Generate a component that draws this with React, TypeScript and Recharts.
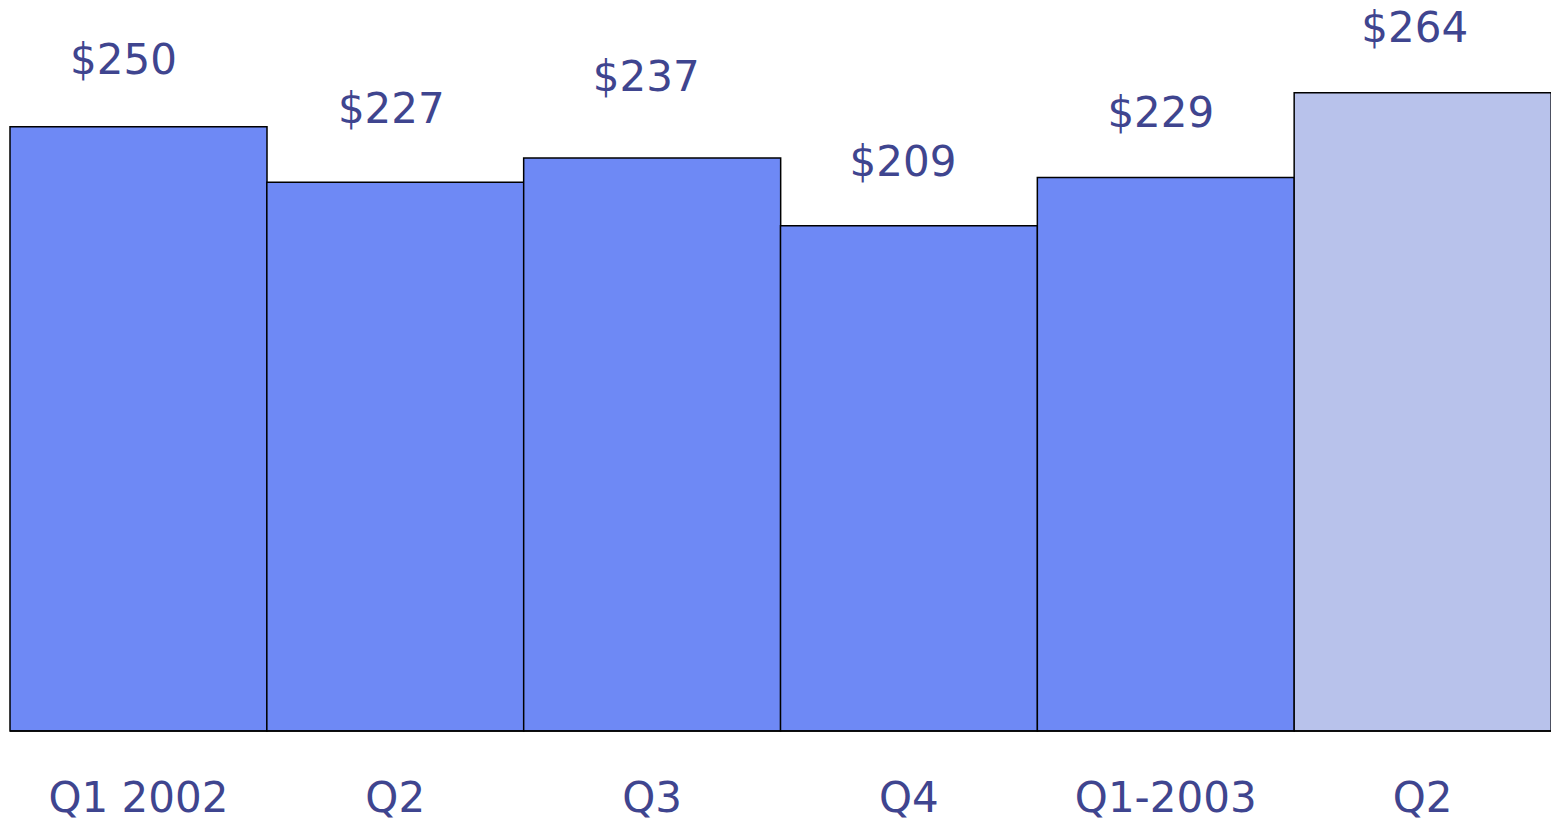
import { BarChart, Bar, XAxis, YAxis, Cell, LabelList } from 'recharts';

const quarters = ['Q1 2002', 'Q2', 'Q3', 'Q4', 'Q1-2003', 'Q2'];
const revenue = [250, 227, 237, 209, 229, 264];
const barColors = ['#6E89F5', '#6E89F5', '#6E89F5', '#6E89F5', '#6E89F5', '#B8C2EB'];

// value labels in the source sit a little irregularly above each bar
const labelLift = [53, 59, 67, 50, 50, 51];
const labelShift = [-15, -4, -6, -6, -5, -8];

const TEXT = '#3F458F';
const FONT = 'Verdana, "DejaVu Sans", sans-serif';

const data = quarters.map((q, i) => ({ key: `${q}-${i}`, q, v: revenue[i] }));

function QuarterTick({ x, y, payload }: any) {
  return (
    <text x={x} y={y + 81} textAnchor="middle" fill={TEXT} fontSize={42} fontFamily={FONT}>
      {quarters[payload.index] ?? payload.value}
    </text>
  );
}

function ValueLabel({ x, y, width, value, index }: any) {
  return (
    <text x={x + width / 2 + (labelShift[index] ?? 0)} y={y - (labelLift[index] ?? 52)}
          textAnchor="middle" fill={TEXT} fontSize={42} fontFamily={FONT}>
      ${value}
    </text>
  );
}

export default function App() {
  return (
    <div style={{ position: 'absolute', left: 0, top: 0, width: 1551, height: 821, background: '#fff' }}>
      <BarChart width={1551} height={821} data={data} barCategoryGap={0}
                margin={{ top: 0, right: 0, bottom: 0, left: 10 }}>
        <XAxis dataKey="key" height={90} tickLine={false} tickSize={0} tickMargin={0}
               axisLine={{ stroke: '#000', strokeWidth: 1.5 }} tick={<QuarterTick />} interval={0} />
        <YAxis hide domain={[0, 302.4]} />
        <Bar dataKey="v" stroke="#000" strokeWidth={1.5} isAnimationActive={false}>
          {data.map((d, i) => <Cell key={d.key} fill={barColors[i]} />)}
          <LabelList dataKey="v" content={<ValueLabel />} />
        </Bar>
      </BarChart>
    </div>
  );
}
